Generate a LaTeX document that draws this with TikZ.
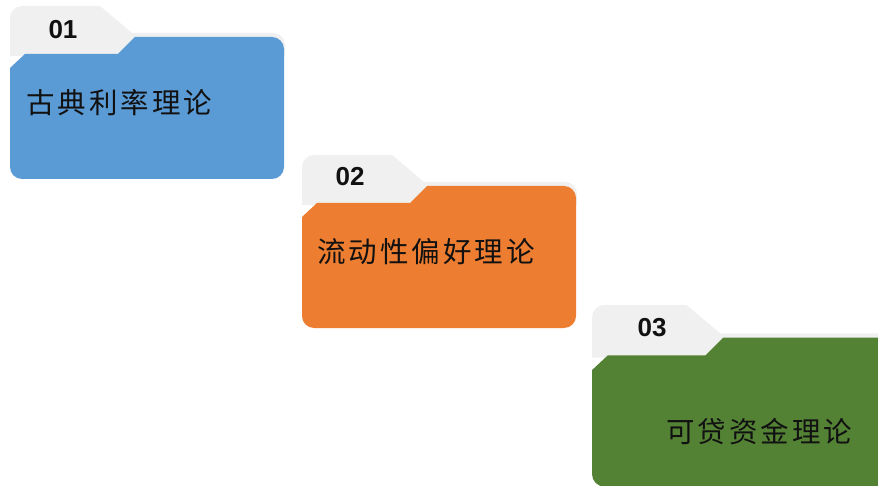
\documentclass[tikz,border=0pt]{standalone}
\usepackage{fontspec}
\setmainfont{Liberation Sans}
\newfontfamily\cjk{Noto Sans CJK SC}
\definecolor{tabgray}{HTML}{F0F0F0}
\definecolor{fblue}{HTML}{5B9BD5}
\definecolor{forange}{HTML}{ED7D31}
\definecolor{fgreen}{HTML}{548235}
\definecolor{txt}{HTML}{111111}
\newcommand\ks{\kern3pt}
% folder: #1 width, #2 height, #3 colour
\newcommand\myfolder[3]{%
  \fill[tabgray] (0,94) -- (0,12) arc[start angle=180,end angle=270,radius=12]
    -- (90,0) -- (122,27) -- ({#1-11},27) arc[start angle=270,end angle=360,radius=12]
    -- ({#1+1},50) -- (0,50) -- cycle;
  \fill[#3] (0,62) -- (15,48) -- (108,48) -- (125,31) -- ({#1-12},31)
    arc[start angle=270,end angle=360,radius=12] -- (#1,{#2-12})
    arc[start angle=0,end angle=90,radius=12] -- (12,#2)
    arc[start angle=90,end angle=180,radius=12] -- cycle;
}
\tikzset{
  num/.style={font=\fontsize{26}{26}\selectfont\bfseries, text=txt, inner sep=0pt, anchor=center},
  title/.style={font=\fontsize{28.5}{28.5}\selectfont\cjk, text=txt, inner sep=0pt, anchor=west}
}
\begin{document}
\begin{tikzpicture}[x=1pt,y=-1pt]
\useasboundingbox (0,0) rectangle (878,486);
\fill[white] (0,0) rectangle (878,486);
\clip (0,0) rectangle (878,486);
\begin{scope}[shift={(10,6)}]
  \myfolder{274}{173}{fblue}
\end{scope}
\begin{scope}[shift={(302,155)}]
  \myfolder{274}{173}{forange}
\end{scope}
\begin{scope}[shift={(592,305)},scale=1.05]
  \myfolder{300}{173}{fgreen}
\end{scope}
\node[num] (n1) at (63,30) {01};
\node[title] (t1) at (26,103) {古\ks 典\ks 利\ks 率\ks 理\ks 论};
\node[num] (n2) at (350,177) {02};
\node[title] (t2) at (317,252) {流\ks 动\ks 性\ks 偏\ks 好\ks 理\ks 论};
\node[num] (n3) at (652,328) {03};
\node[title] (t3) at (666,432) {可\ks 贷\ks 资\ks 金\ks 理\ks 论};
\end{tikzpicture}
\end{document}
